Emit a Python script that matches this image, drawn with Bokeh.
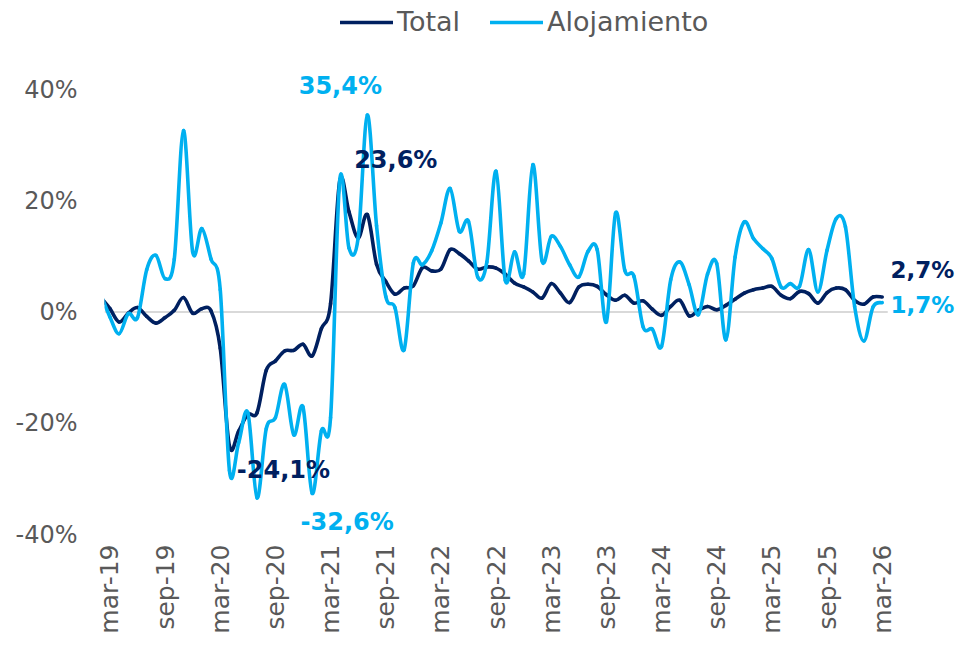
from math import pi
from bokeh.plotting import figure
from bokeh.models import (Range1d, FixedTicker, PrintfTickFormatter,
                          Legend, LegendItem, Label, ColumnDataSource)
from bokeh.embed import file_html
from bokeh.resources import INLINE

# ---------------- data ----------------
month_abbr = ["ene", "feb", "mar", "abr", "may", "jun",
              "jul", "ago", "sep", "oct", "nov", "dic"]
# feb-19 ... mar-26 (position -1 ... 84)
months = [f"{month_abbr[(1 + k) % 12]}-{19 + (1 + k) // 12}" for k in range(86)]
x_pos = list(range(-1, 85))

total = [2.6, 0.6, -1.8, -0.2, 0.8, -0.8, -2.0, -1.0, 0.3, 2.6,
         -0.2, 0.6, 0.2, -6.5, -24.1, -21.4, -18.4, -18.1, -10.5, -8.8,
         -7.0, -6.9, -5.8, -7.9, -3.0, 1.5, 23.6, 18.0, 13.3, 17.5,
         8.6, 5.5, 3.2, 4.3, 4.7, 8.0, 7.4, 7.7, 11.2, 10.5,
         9.2, 7.7, 8.1, 7.9, 6.8, 5.2, 4.5, 3.6, 2.5, 5.1,
         3.4, 1.7, 4.5, 5.0, 4.6, 3.1, 2.1, 3.0, 1.6, 2.0,
         0.5, -0.6, 1.0, 2.1, -0.7, 0.3, 1.0, 0.4, 1.2, 2.3,
         3.4, 4.0, 4.3, 4.6, 3.0, 2.4, 3.7, 3.3, 1.6, 3.5,
         4.3, 4.0, 2.1, 1.4, 2.7, 2.7]

alojamiento = [3.2, -0.9, -3.9, -0.3, -1.0, 7.6, 10.2, 6.0, 9.5, 32.6,
               10.8, 15.0, 9.5, 4.0, -28.5, -23.5, -18.1, -33.4, -21.0, -19.0,
               -13.0, -22.1, -17.1, -32.6, -21.4, -19.0, 23.8, 11.5, 13.3, 35.4,
               15.5, 2.8, 0.8, -6.8, 8.8, 8.5, 11.0, 16.0, 22.2, 14.5,
               16.3, 6.3, 9.0, 25.3, 5.7, 10.8, 6.8, 26.5, 9.2, 13.6,
               11.8, 8.5, 6.3, 10.9, 11.2, -1.8, 17.8, 7.5, 6.4, -2.7,
               -3.1, -6.2, 5.8, 9.0, 4.9, -0.5, 6.8, 8.7, -5.0, 9.9,
               16.2, 13.2, 11.4, 9.6, 4.5, 5.1, 4.6, 11.2, 3.6, 11.1,
               16.8, 15.3, 1.0, -5.2, 0.9, 1.7]

tick_positions = list(range(0, 85, 6))
tick_labels = ["mar-19", "sep-19", "mar-20", "sep-20", "mar-21", "sep-21",
               "mar-22", "sep-22", "mar-23", "sep-23", "mar-24", "sep-24",
               "mar-25", "sep-25", "mar-26"]
y_ticks = [-40, -20, 0, 20, 40]

series_names = ["Total", "Alojamiento"]

# ---------------- styling ----------------
NAVY = "#002060"
LIGHT = "#00B0F0"
GREY_TXT = "#595959"
FONT = "DejaVu Sans"

X_LO, X_HI = -0.59, 92.08        # visible x window (data area + room for end labels)
X_AXIS_END = 84.6                # end of the category axis line
Y_LO, Y_HI = -40, 56.0           # value window (top room for legend / labels)

p = figure(width=956, height=637, output_backend="svg", toolbar_location=None,
           x_range=Range1d(X_LO, X_HI), y_range=Range1d(Y_LO, Y_HI),
           min_border_left=104, min_border_right=0,
           min_border_top=0, min_border_bottom=103)
p.outline_line_color = None
p.xgrid.visible = False
p.ygrid.visible = False
p.background_fill_color = "white"
p.border_fill_color = "white"

# horizontal category axis line at 0
p.segment(x0=[X_LO], y0=[0], x1=[X_AXIS_END], y1=[0],
          line_color="#d9d9d9", line_width=2)


def smooth_source(xs, ys):
    """Cubic Bezier segments through every data point (smoothed line)."""
    n = len(xs)
    d = dict(x0=[], y0=[], x1=[], y1=[], cx0=[], cy0=[], cx1=[], cy1=[])
    for k in range(n - 1):
        a = max(k - 1, 0)
        b = min(k + 2, n - 1)
        d["x0"].append(xs[k]); d["y0"].append(ys[k])
        d["x1"].append(xs[k + 1]); d["y1"].append(ys[k + 1])
        d["cx0"].append(xs[k] + (xs[k + 1] - xs[a]) / 6)
        d["cy0"].append(ys[k] + (ys[k + 1] - ys[a]) / 6)
        d["cx1"].append(xs[k + 1] - (xs[b] - xs[k]) / 6)
        d["cy1"].append(ys[k + 1] - (ys[b] - ys[k]) / 6)
    return ColumnDataSource(d)


r_total = p.bezier(x0="x0", y0="y0", x1="x1", y1="y1", cx0="cx0", cy0="cy0",
                   cx1="cx1", cy1="cy1", source=smooth_source(x_pos, total),
                   line_color=NAVY, line_width=3.6, line_cap="round")
r_aloj = p.bezier(x0="x0", y0="y0", x1="x1", y1="y1", cx0="cx0", cy0="cy0",
                  cx1="cx1", cy1="cy1", source=smooth_source(x_pos, alojamiento),
                  line_color=LIGHT, line_width=3.6, line_cap="round")

# axes
p.yaxis.ticker = FixedTicker(ticks=y_ticks)
p.yaxis.formatter = PrintfTickFormatter(format="%d%%")
p.xaxis.ticker = FixedTicker(ticks=tick_positions)
p.xaxis.major_label_overrides = {t: l for t, l in zip(tick_positions, tick_labels)}
p.xaxis.major_label_orientation = pi / 2
for ax in (p.xaxis[0], p.yaxis[0]):
    ax.axis_line_color = None
    ax.major_tick_line_color = None
    ax.minor_tick_line_color = None
    ax.major_tick_out = 0
    ax.major_tick_in = 0
    ax.major_label_text_color = GREY_TXT
    ax.major_label_text_font = FONT
p.yaxis.major_label_text_font_size = "24px"
p.yaxis.major_label_standoff = 27
p.xaxis.major_label_text_font_size = "25px"
p.xaxis.major_label_standoff = 10

# legend
legend = Legend(items=[LegendItem(label=series_names[0], renderers=[r_total]),
                       LegendItem(label=series_names[1], renderers=[r_aloj])],
                location=(236, 497), orientation="horizontal",
                label_text_font=FONT, label_text_font_size="27px",
                label_text_color=GREY_TXT, glyph_width=53, glyph_height=28,
                label_standoff=4, spacing=30, padding=0, margin=0,
                border_line_color=None, background_fill_alpha=0)
p.add_layout(legend)


def fmt(v):
    return f"{v:.1f}".replace(".", ",") + "%"


# data labels: (series values, colour, position, dx, dy, align, size)
label_specs = [
    (alojamiento, LIGHT, 28, -27, 29, "center", "24px"),
    (total, NAVY, 25, 56, 21, "center", "24px"),
    (total, NAVY, 13, 54, -24, "center", "24px"),
    (alojamiento, LIGHT, 22, 35, -29, "center", "24px"),
    (total, NAVY, 84, 72, 27, "right", "23px"),
    (alojamiento, LIGHT, 84, 72, -2, "right", "23px"),
]
for vals, col, idx, dx, dy, align, size in label_specs:
    k = x_pos.index(idx)
    p.add_layout(Label(x=x_pos[k], y=vals[k], text=fmt(vals[k]),
                       x_offset=dx, y_offset=dy, text_align=align,
                       text_baseline="middle", text_color=col,
                       text_font=FONT, text_font_style="bold",
                       text_font_size=size))

open("out.html", "w").write(file_html(p, INLINE))
